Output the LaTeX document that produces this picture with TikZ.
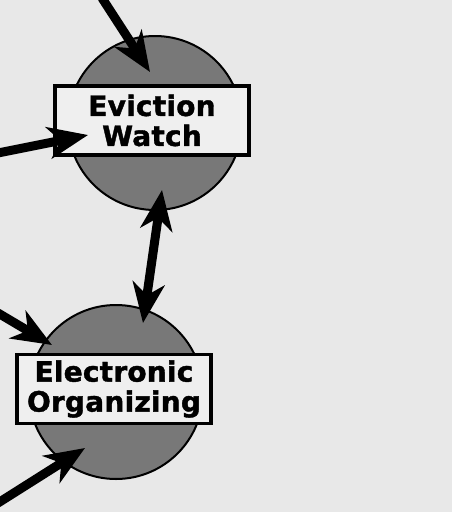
\documentclass[tikz,border=0pt]{standalone}
\usepackage{fontspec}
\setmainfont{DejaVu Sans}
\newfontfamily\heavyfont[FakeBold=1.4,LetterSpace=0.8]{DejaVu Sans Bold}
\usetikzlibrary{arrows.meta,calc}
\definecolor{paper}{HTML}{E8E8E8}
\definecolor{boxfill}{HTML}{EFEFEF}
\definecolor{disc}{HTML}{787878}
\tikzset{
  discnode/.style={circle, draw=black, line width=2pt, fill=disc, minimum size=174pt, inner sep=0pt},
  labelbox/.style={rectangle, draw=black, line width=3.5pt, fill=boxfill, minimum width=194pt, minimum height=69pt, inner sep=0pt, align=center, font=\heavyfont\fontsize{28}{30}\selectfont},
  bigtip/.tip={Stealth[length=40pt,width=32pt,inset=12pt]},
  bigarrow/.style={line width=9pt, -bigtip},
  bigdouble/.style={line width=9pt, bigtip-bigtip}
}
\begin{document}
\begin{tikzpicture}[x=1pt,y=-1pt]
\fill[paper] (0,0) rectangle (452,512);
\useasboundingbox (0,0) rectangle (452,512);
% discs
\node[discnode] (d1) at (155,123) {};
\node[discnode] (d2) at (116,392) {};
% label boxes
\node[labelbox] (b1) at (152,120.5) {Eviction\\Watch};
\node[labelbox] (b2) at (114,389) {Electronic\\Organizing};
% free ends
\coordinate (top) at (102,-2);
\coordinate (left1) at (-2,153);
\coordinate (left2) at (-2,313);
\coordinate (left3) at (-2,503);
% arrows
\draw[bigarrow] (top) -- ($(d1.center)+(-5,-51)$);
\draw[bigarrow] (left1) -- ($(d1.center)+(-67,12)$);
\draw[bigdouble] ($(d2.center)+(27,-69)$) -- ($(d1.center)+(7,67)$);
\draw[bigarrow] (left2) -- ($(d2.center)+(-64,-47)$);
\draw[bigarrow] (left3) -- ($(d2.center)+(-31,56)$);
\end{tikzpicture}
\end{document}
